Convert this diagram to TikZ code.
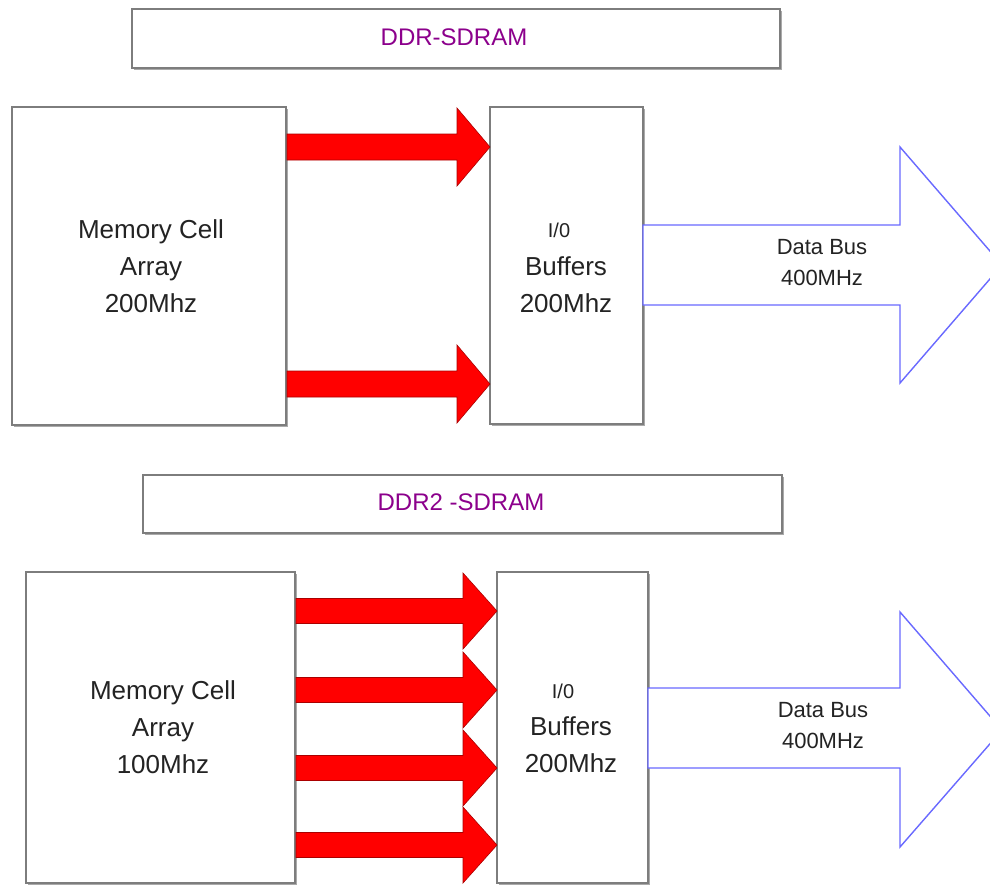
\documentclass[tikz,border=0pt]{standalone}
\usepackage{fontspec}
\setmainfont{Liberation Sans}
\usetikzlibrary{shadows}
\definecolor{boxgray}{RGB}{125,125,125}
\definecolor{shgray}{RGB}{170,170,170}
\definecolor{titlepurple}{RGB}{140,0,140}
\definecolor{busblue}{RGB}{105,105,255}
\definecolor{arrred}{RGB}{255,0,0}
\definecolor{arrdark}{RGB}{170,0,0}
\definecolor{txt}{RGB}{35,35,35}
\begin{document}
\begin{tikzpicture}[x=1pt,y=-1pt,
  box/.style={draw=boxgray, line width=1.3pt, fill=white, inner sep=0pt,
    drop shadow={shadow xshift=1.5pt, shadow yshift=-1.5pt, fill=shgray, opacity=1}},
  bigtxt/.style={text=txt, align=center, inner sep=0pt, font=\fontsize{26}{37}\selectfont},
  smalltxt/.style={text=txt, align=center, inner sep=0pt, font=\fontsize{20}{24}\selectfont},
  bustxt/.style={text=txt, align=center, inner sep=0pt, font=\fontsize{22}{31}\selectfont},
  titletxt/.style={text=titlepurple, inner sep=0pt, font=\fontsize{24}{28}\selectfont},
  redarr/.style={fill=arrred, draw=arrdark, line width=0.6pt, line join=miter},
  busarr/.style={draw=busblue, line width=1.4pt, fill=white, line join=miter}]
\useasboundingbox (0,0) rectangle (990,884);
\clip (0,0) rectangle (990,884);

% ---------- DDR-SDRAM ----------
\node[box, minimum width=648pt, minimum height=59pt] (t1) at (456,38.5) {};
\node[titletxt] (t1t) at (454,37) {DDR-SDRAM};

\node[box, minimum width=274pt, minimum height=318pt] (m1) at (149,266) {};
\node[bigtxt] (m1t) at (151,266) {Memory Cell\\Array\\200Mhz};

\node[box, minimum width=153pt, minimum height=317pt] (b1) at (566.5,265.5) {};
\node[smalltxt] (b1a) at (559,230) {I/0};
\node[bigtxt] (b1t) at (566,285) {Buffers\\200Mhz};

\foreach \yc in {147,384}{
  \draw[redarr] (287,\yc-13) -- (457,\yc-13) -- (457,\yc-39) -- (490,\yc)
     -- (457,\yc+39) -- (457,\yc+13) -- (287,\yc+13) -- cycle;
}

\draw[busarr] (643,225) -- (900,225) -- (900,147) -- (1002,265)
   -- (900,383) -- (900,305) -- (643,305) -- cycle;
\node[bustxt] (d1) at (822,263) {Data Bus\\400MHz};

% ---------- DDR2-SDRAM ----------
\node[box, minimum width=639pt, minimum height=58pt] (t2) at (462.5,504) {};
\node[titletxt] (t2t) at (461,502) {DDR2 -SDRAM};

\node[box, minimum width=269pt, minimum height=311pt] (m2) at (160.5,727.5) {};
\node[bigtxt] (m2t) at (163,727) {Memory Cell\\Array\\100Mhz};

\node[box, minimum width=151pt, minimum height=311pt] (b2) at (572.5,727.5) {};
\node[smalltxt] (b2a) at (563,691) {I/0};
\node[bigtxt] (b2t) at (571,745) {Buffers\\200Mhz};

\foreach \yc in {611,690,768,845}{
  \draw[redarr] (296,\yc-12.5) -- (463,\yc-12.5) -- (463,\yc-38) -- (497,\yc)
     -- (463,\yc+38) -- (463,\yc+12.5) -- (296,\yc+12.5) -- cycle;
}

\draw[busarr] (648,688) -- (900,688) -- (900,612) -- (1002,730)
   -- (900,847) -- (900,768) -- (648,768) -- cycle;
\node[bustxt] (d2) at (823,726) {Data Bus\\400MHz};
\end{tikzpicture}
\end{document}
